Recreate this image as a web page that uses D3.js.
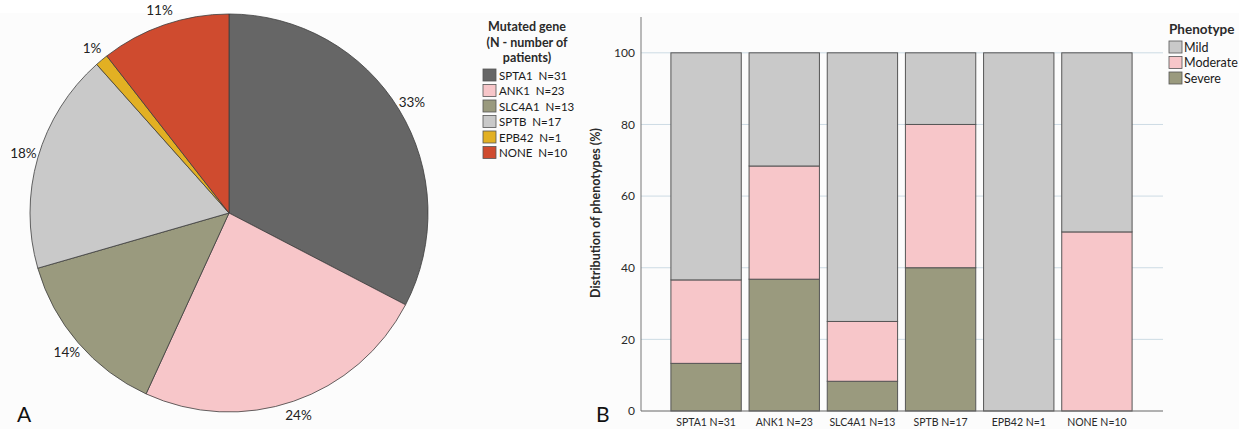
<!DOCTYPE html>
<html>
<head>
<meta charset="utf-8">
<script src="https://cdn.jsdelivr.net/npm/d3@7"></script>
<style>
  body { margin: 0; background: #fff; }
  svg { display: block; font-family: Lato, "Open Sans", sans-serif; }
</style>
</head>
<body>
<svg width="1239" height="429"></svg>
<script>
// data for panel A (mutated genes, patient counts)
var genes = ["SPTA1", "ANK1", "SLC4A1", "SPTB", "EPB42", "NONE"];
var patients = [31, 23, 13, 17, 1, 10];
var geneColors = ["#666666", "#f7c6c9", "#9a9a7e", "#c9c9c9", "#e2b023", "#cf4b2f"];

// data for panel B (phenotype distribution in %)
var barLabels = ["SPTA1 N=31", "ANK1 N=23", "SLC4A1 N=13", "SPTB N=17", "EPB42 N=1", "NONE N=10"];
var phenotypes = ["Severe", "Moderate", "Mild"];
var severe = [13.3, 36.8, 8.3, 40, 0, 0];
var moderate = [23.3, 31.6, 16.7, 40, 0, 50];
var mild = [63.4, 31.6, 75, 20, 100, 50];
var phenoColors = {Mild: "#c9c9c9", Moderate: "#f7c6c9", Severe: "#9a9a7e"};
var yTicks = [0, 20, 40, 60, 80, 100];

var svg = d3.select("svg");

// light panel background
svg.append("rect").attr("x", 0).attr("y", 13).attr("width", 1239).attr("height", 416).attr("fill", "#fcfcfc");

// ---------- panel A : pie ----------
var total = d3.sum(patients);
var pie = d3.pie().sort(null).value(function(d) { return d; });
var arcs = pie(patients);
var r = 199;
var arc = d3.arc().innerRadius(0).outerRadius(r);
var labelArc = d3.arc().innerRadius(214).outerRadius(214);

var gp = svg.append("g").attr("transform", "translate(229,213)");
gp.selectAll("path").data(arcs).enter().append("path")
  .attr("d", arc)
  .attr("fill", function(d, i) { return geneColors[i]; })
  .attr("stroke", "#3d3d3d")
  .attr("stroke-width", 0.8);

gp.selectAll("text").data(arcs).enter().append("text")
  .attr("transform", function(d) { return "translate(" + labelArc.centroid(d) + ")"; })
  .attr("text-anchor", "middle")
  .attr("dy", "0.35em")
  .attr("font-size", 13.5)
  .attr("fill", "#222")
  .text(function(d) { return Math.round(d.value / total * 100) + "%"; });

svg.append("text").attr("x", 17).attr("y", 422).attr("font-size", 21).attr("fill", "#111").text("A");

// legend A
var legA = svg.append("g");
legA.selectAll("text.t").data(["Mutated gene", "(N - number of", "patients)"]).enter().append("text")
  .attr("x", 527).attr("y", function(d, i) { return 31 + i * 15.5; })
  .attr("text-anchor", "middle").attr("font-weight", "bold").attr("font-size", 12.5).attr("fill", "#2a2a2a")
  .text(function(d) { return d; });
var items = legA.selectAll("g.it").data(genes).enter().append("g")
  .attr("transform", function(d, i) { return "translate(483," + (69 + i * 15.5) + ")"; });
items.append("rect").attr("width", 13).attr("height", 12)
  .attr("fill", function(d, i) { return geneColors[i]; })
  .attr("stroke", "#555").attr("stroke-width", 0.8);
items.append("text").attr("x", 16).attr("y", 10.5).attr("font-size", 11.5).attr("fill", "#1a1a1a")
  .text(function(d, i) { return d + "  N=" + patients[i]; })
  .attr("xml:space", "preserve");

// ---------- panel B : stacked bars ----------
var x = d3.scaleBand().domain(barLabels).range([667, 1136]).paddingInner(0.1).paddingOuter(0.05);
var y = d3.scaleLinear().domain([0, 110]).range([411, 17]);

var rows = barLabels.map(function(l, i) {
  return {label: l, Severe: severe[i], Moderate: moderate[i], Mild: mild[i]};
});
var series = d3.stack().keys(phenotypes)(rows);

// gridlines
svg.append("g").selectAll("line").data(yTicks.slice(1)).enter().append("line")
  .attr("x1", 641).attr("x2", 1163)
  .attr("y1", function(d) { return y(d); }).attr("y2", function(d) { return y(d); })
  .attr("stroke", "#cddbe4").attr("stroke-width", 1);

var gb = svg.append("g");
series.forEach(function(s) {
  gb.selectAll(null).data(s).enter().append("rect")
    .filter(function(d) { return d[1] - d[0] > 0; })
    .attr("x", function(d) { return x(d.data.label); })
    .attr("width", x.bandwidth())
    .attr("y", function(d) { return y(d[1]); })
    .attr("height", function(d) { return y(d[0]) - y(d[1]); })
    .attr("fill", phenoColors[s.key])
    .attr("stroke", "#555")
    .attr("stroke-width", 1);
});

// axes
var yAxis = d3.axisLeft(y).tickValues(yTicks).tickSize(0).tickPadding(6);
var ya = svg.append("g").attr("transform", "translate(641,0)").call(yAxis);
ya.select(".domain").attr("d", "M0," + y(110) + "V" + y(0)).attr("stroke", "#777");
ya.selectAll("text").attr("font-size", 12).attr("fill", "#2a2a2a").attr("font-family", "Lato, sans-serif");

var xAxis = d3.axisBottom(x).tickSize(0).tickPadding(8);
var xa = svg.append("g").attr("transform", "translate(0,411)").call(xAxis);
xa.select(".domain").attr("d", "M641,0H1163").attr("stroke", "#666");
xa.selectAll("text").attr("font-size", 10.5).attr("fill", "#2a2a2a").attr("font-family", "Lato, sans-serif");

svg.append("text")
  .attr("transform", "translate(600,213) rotate(-90)")
  .attr("text-anchor", "middle").attr("font-weight", "bold").attr("font-size", 12.5).attr("fill", "#2a2a2a")
  .text("Distribution of phenotypes (%)");

svg.append("text").attr("x", 596).attr("y", 422).attr("font-size", 21).attr("fill", "#111").text("B");

// legend B
var legB = svg.append("g").attr("transform", "translate(1169,0)");
legB.append("text").attr("x", 0).attr("y", 34).attr("font-weight", "bold").attr("font-size", 13.5).attr("fill", "#2a2a2a").text("Phenotype");
var pItems = legB.selectAll("g.p").data(["Mild", "Moderate", "Severe"]).enter().append("g")
  .attr("transform", function(d, i) { return "translate(0," + (41 + i * 15.5) + ")"; });
pItems.append("rect").attr("width", 13).attr("height", 12)
  .attr("fill", function(d) { return phenoColors[d]; })
  .attr("stroke", "#555").attr("stroke-width", 0.8);
pItems.append("text").attr("x", 15).attr("y", 10.5).attr("font-size", 12.5).attr("fill", "#1a1a1a")
  .text(function(d) { return d; });
</script>
</body>
</html>
